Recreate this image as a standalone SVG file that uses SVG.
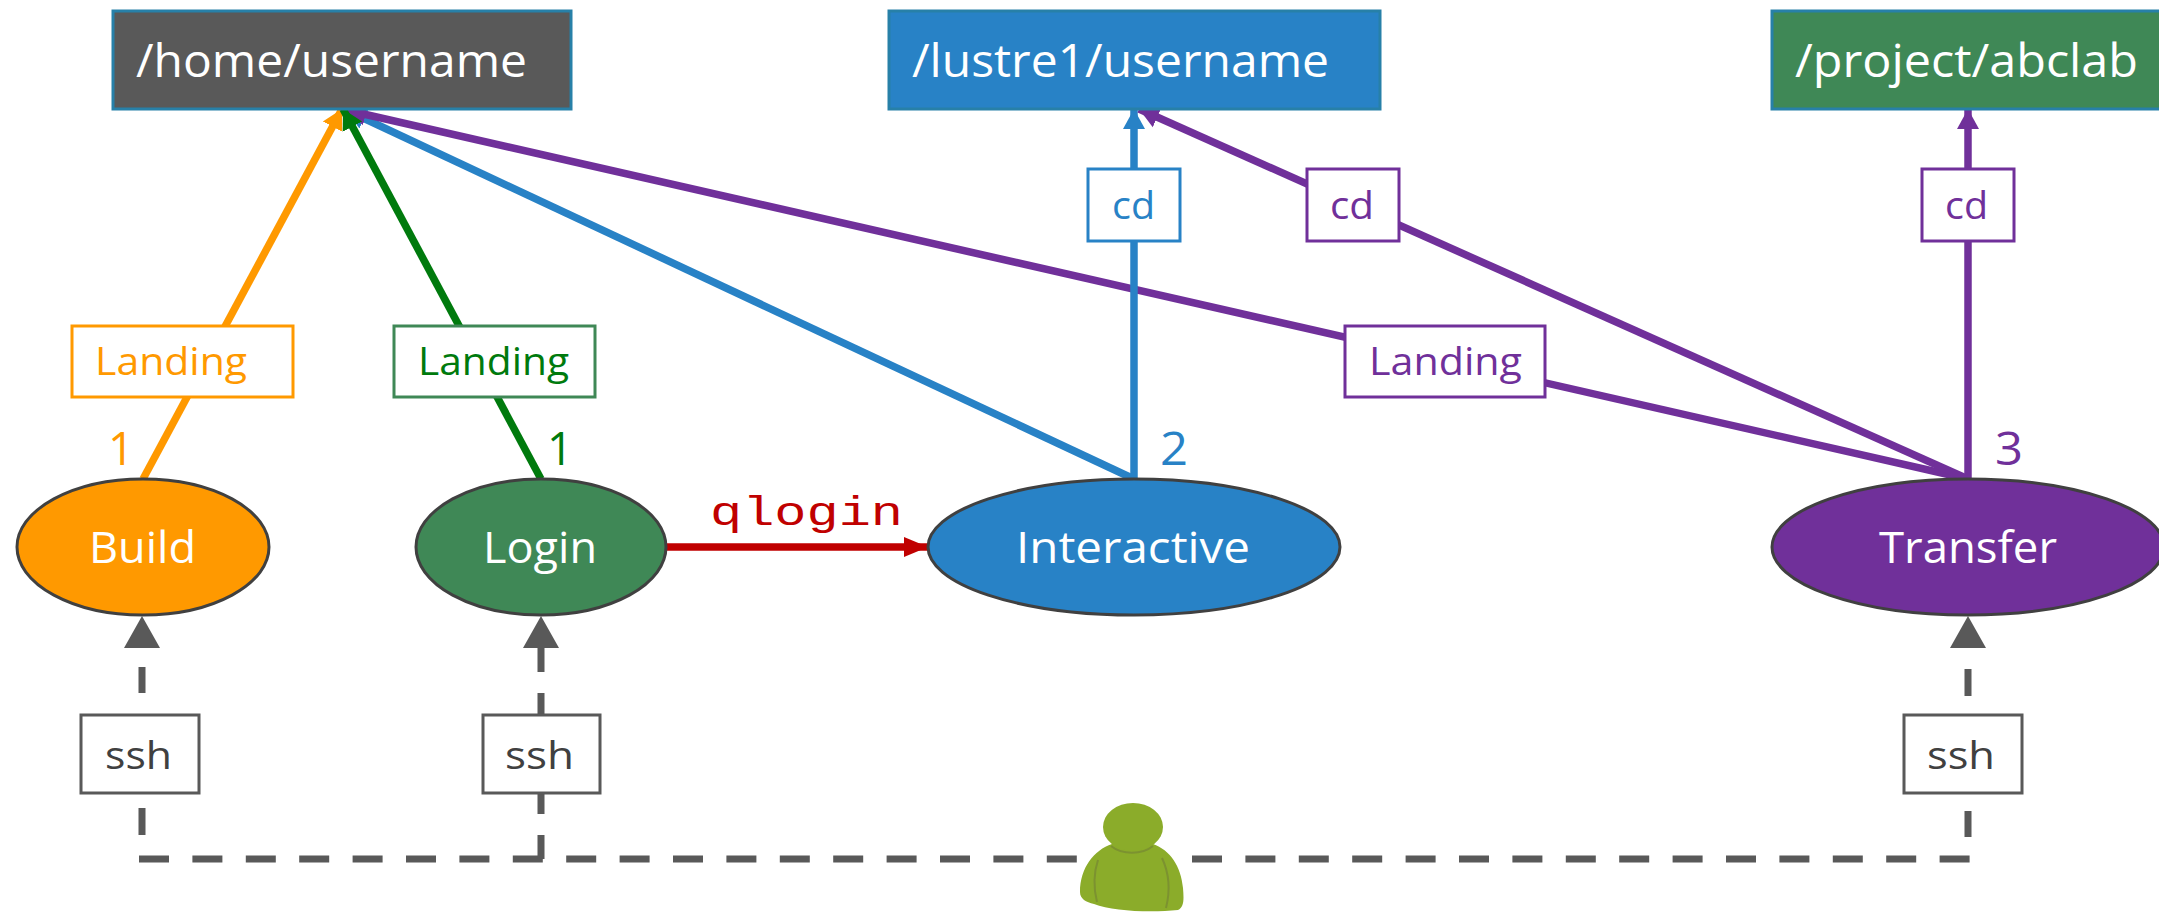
<svg xmlns="http://www.w3.org/2000/svg" width="2159" height="912" viewBox="0 0 2159 912">
<style>
text{font-family:"Open Sans","Noto Sans","Liberation Sans",sans-serif}
.dir{stroke:#2780a8;stroke-width:3}
.dirt{font-size:45px;fill:#fff}
.lab{fill:#fff;stroke-width:3}
.labt{font-size:39px}
.st{font-size:43px;fill:#fff}
.ell{stroke:#404040;stroke-width:3}
.num{font-size:45px}
.c{fill:none;stroke-width:7.5}
.dash{fill:none;stroke:#595959;stroke-width:7}
</style>
<defs>
<marker id="aBlue" markerUnits="userSpaceOnUse" markerWidth="24" markerHeight="24" refX="20" refY="12" orient="auto"><path d="M0 1L20 12L0 23Z" fill="#2882c6"/></marker>
<marker id="aPurple" markerUnits="userSpaceOnUse" markerWidth="24" markerHeight="24" refX="20" refY="12" orient="auto"><path d="M0 1L20 12L0 23Z" fill="#70309a"/></marker>
<marker id="aOrange" markerUnits="userSpaceOnUse" markerWidth="24" markerHeight="24" refX="20" refY="12" orient="auto"><path d="M0 1L20 12L0 23Z" fill="#ff9900"/></marker>
<marker id="aGreen" markerUnits="userSpaceOnUse" markerWidth="24" markerHeight="24" refX="20" refY="12" orient="auto"><path d="M0 1L20 12L0 23Z" fill="#007a0d"/></marker>
<marker id="aRed" markerUnits="userSpaceOnUse" markerWidth="28" markerHeight="26" refX="24" refY="13" orient="auto"><path d="M0 3L24 13L0 23Z" fill="#c00000"/></marker>
<marker id="aGray" markerUnits="userSpaceOnUse" markerWidth="34" markerHeight="40" refX="32" refY="20" orient="auto"><path d="M0 2L32 20L0 38Z" fill="#595959"/></marker>
</defs>
<g id="connectors">
<path class="c" stroke="#2882c6" d="M1134 479L346 110" marker-end="url(#aBlue)"/>
<path class="c" stroke="#70309a" d="M1968 479L346 110" marker-end="url(#aPurple)"/>
<path class="c" stroke="#ff9900" d="M143 479L342 109" marker-end="url(#aOrange)"/>
<path class="c" stroke="#007a0d" d="M541 479L343 109" marker-end="url(#aGreen)"/>
<path class="c" stroke="#2882c6" d="M1134 479V109" marker-end="url(#aBlue)"/>
<path class="c" stroke="#70309a" d="M1968 479L1139 109" marker-end="url(#aPurple)"/>
<path class="c" stroke="#70309a" d="M1968 479V109" marker-end="url(#aPurple)"/>
<path class="c" stroke="#c00000" d="M666 547H928" marker-end="url(#aRed)"/>
<path class="dash" d="M139 859H1080" stroke-dasharray="30 23.4"/>
<path class="dash" d="M1192 859H1970" stroke-dasharray="30 23.4"/>
<path class="dash" d="M142 859V616" stroke-dasharray="0 24 27 115 26 200" marker-end="url(#aGray)"/>
<path class="dash" d="M541 859V616" stroke-dasharray="24 21 29 62 30 21 24 200" marker-end="url(#aGray)"/>
<path class="dash" d="M1968 859V616" stroke-dasharray="0 22 26 115 27 200" marker-end="url(#aGray)"/>
</g>
<g id="dir-home"><rect class="dir" x="113" y="11" width="458" height="98" fill="#595959"/><text class="dirt" x="136" y="77" textLength="391" lengthAdjust="spacingAndGlyphs">/home/username</text></g>
<g id="dir-lustre"><rect class="dir" x="889" y="11" width="491" height="98" fill="#2882c6"/><text class="dirt" x="912" y="77" textLength="417" lengthAdjust="spacingAndGlyphs">/lustre1/username</text></g>
<g id="dir-project"><rect class="dir" x="1772" y="11" width="390" height="98" fill="#3f8856"/><text class="dirt" x="1795" y="77" textLength="343" lengthAdjust="spacingAndGlyphs">/project/abclab</text></g>
<g id="label-landing-build"><rect class="lab" x="72" y="326" width="221" height="71" stroke="#ff9900"/><text class="labt" x="95" y="375" fill="#ff9900" textLength="152" lengthAdjust="spacingAndGlyphs">Landing</text></g>
<g id="label-landing-login"><rect class="lab" x="394" y="326" width="201" height="71" stroke="#3f8856"/><text class="labt" x="418" y="375" fill="#007a0d" textLength="151" lengthAdjust="spacingAndGlyphs">Landing</text></g>
<g id="label-landing-transfer"><rect class="lab" x="1345" y="326" width="200" height="71" stroke="#70309a"/><text class="labt" x="1369" y="375" fill="#70309a" textLength="153" lengthAdjust="spacingAndGlyphs">Landing</text></g>
<g id="label-cd-interactive"><rect class="lab" x="1088" y="169" width="92" height="72" stroke="#2882c6"/><text class="labt" x="1112" y="219" fill="#2882c6" textLength="43" lengthAdjust="spacingAndGlyphs">cd</text></g>
<g id="label-cd-lustre"><rect class="lab" x="1307" y="169" width="92" height="72" stroke="#70309a"/><text class="labt" x="1330" y="219" fill="#70309a" textLength="44" lengthAdjust="spacingAndGlyphs">cd</text></g>
<g id="label-cd-project"><rect class="lab" x="1922" y="169" width="92" height="72" stroke="#70309a"/><text class="labt" x="1945" y="219" fill="#70309a" textLength="43" lengthAdjust="spacingAndGlyphs">cd</text></g>
<g id="label-ssh-build"><rect class="lab" x="81" y="715" width="118" height="78" stroke="#595959"/><text class="labt" x="105" y="769" fill="#404040" textLength="67" lengthAdjust="spacingAndGlyphs">ssh</text></g>
<g id="label-ssh-login"><rect class="lab" x="483" y="715" width="117" height="78" stroke="#595959"/><text class="labt" x="505" y="769" fill="#404040" textLength="69" lengthAdjust="spacingAndGlyphs">ssh</text></g>
<g id="label-ssh-transfer"><rect class="lab" x="1904" y="715" width="118" height="78" stroke="#595959"/><text class="labt" x="1927" y="769" fill="#404040" textLength="68" lengthAdjust="spacingAndGlyphs">ssh</text></g>
<g id="node-build"><ellipse class="ell" cx="143" cy="547" rx="126" ry="68" fill="#ff9900"/><text class="st" x="89" y="563" textLength="107" lengthAdjust="spacingAndGlyphs">Build</text></g>
<g id="node-login"><ellipse class="ell" cx="541" cy="547" rx="125" ry="68" fill="#3f8856"/><text class="st" x="483" y="563" textLength="114" lengthAdjust="spacingAndGlyphs">Login</text></g>
<g id="node-interactive"><ellipse class="ell" cx="1134" cy="547" rx="206" ry="68" fill="#2882c6"/><text class="st" x="1016" y="563" textLength="234" lengthAdjust="spacingAndGlyphs">Interactive</text></g>
<g id="node-transfer"><ellipse class="ell" cx="1968" cy="547" rx="196" ry="68" fill="#70309a"/><text class="st" x="1879" y="563" textLength="178" lengthAdjust="spacingAndGlyphs">Transfer</text></g>
<text class="num" x="108" y="465" fill="#ff9900" textLength="26" lengthAdjust="spacingAndGlyphs">1</text>
<text class="num" x="547" y="465" fill="#007a0d" textLength="26" lengthAdjust="spacingAndGlyphs">1</text>
<text class="num" x="1160" y="465" fill="#2882c6" textLength="28" lengthAdjust="spacingAndGlyphs">2</text>
<text class="num" x="1995" y="465" fill="#70309a" textLength="28" lengthAdjust="spacingAndGlyphs">3</text>
<text x="710" y="525" fill="#c00000" style="font-family:'Liberation Mono','Courier New',monospace;font-size:40px" textLength="193" lengthAdjust="spacingAndGlyphs">qlogin</text>
<g id="user">
<path d="M1112 844C1094 850 1080 868 1080 892C1080 899 1086 902 1094 904C1112 911 1150 913 1178 910C1184 907 1184 900 1183 888C1181 866 1170 850 1153 844Z" fill="#8bac2a"/>
<ellipse cx="1133" cy="827" rx="30" ry="24" fill="#8bac2a"/>
<path d="M1098 860C1093 875 1094 890 1097 902M1162 858C1170 875 1170 892 1166 908M1111 846C1122 855 1142 855 1153 846" fill="none" stroke="#7c9230" stroke-width="2"/>
</g>
</svg>
